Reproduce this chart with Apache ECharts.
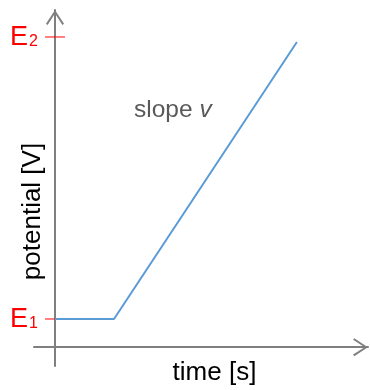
<!DOCTYPE html>
<html>
<head>
<meta charset="utf-8">
<script src="https://cdn.jsdelivr.net/npm/echarts@6/dist/echarts.min.js"></script>
<style>
  html, body { margin: 0; padding: 0; background: #fff; }
  #chart { width: 370px; height: 390px; }
</style>
</head>
<body>
<div id="chart"></div>
<script>
// Linear sweep: hold at E1, then ramp towards E2 with slope v
const times = [0, 1, 4.1];
const potentials = [0.1, 0.1, 1.082];
const levelValues = [0.1, 1.1];          // E1, E2
const levelNames = ['1', '2'];           // subscripts of E

const FONT = '"Liberation Sans", Arial, sans-serif';
const AXIS_GREY = '#7f7f7f';
const RED = '#ff0000';

// open chevron used as arrow head (points up, rotated by the axis)
const chevron = 'path://M9 0 L18 13.6 L16.4 14.8 L9 3.3 L1.6 14.8 L0 13.6 Z';

const chart = echarts.init(document.getElementById('chart'), null, { renderer: 'canvas' });

const arrowLine = {
  onZero: true,
  lineStyle: { color: AXIS_GREY, width: 2 },
  symbol: ['none', chevron],
  symbolSize: [18, 15],
  symbolOffset: [0, -7.5]
};

chart.setOption({
  animation: false,
  grid: { left: 34, right: 2, top: 10, bottom: 24, containLabel: false, outerBoundsMode: 'none' },
  xAxis: {
    type: 'value',
    min: -0.356,
    max: 5.305,
    axisLine: arrowLine,
    axisTick: { show: false },
    axisLabel: { show: false },
    splitLine: { show: false }
  },
  yAxis: {
    type: 'value',
    min: -0.0667,
    max: 1.1957,
    axisLine: arrowLine,
    axisTick: { show: false },
    axisLabel: { show: false },
    splitLine: { show: false }
  },
  series: [
    {
      // level markers E1 / E2 on the potential axis
      type: 'scatter',
      data: levelValues.map((v, i) => ({ value: [0, v], name: levelNames[i] })),
      symbol: 'rect',
      symbolSize: [20, 1],
      itemStyle: { color: RED, opacity: 1 },
      silent: true,
      z: 2,
      label: {
        show: true,
        position: 'left',
        distance: 7,
        offset: [0, 1],
        formatter: p => '{e|E}{s|' + p.name + '}',
        rich: {
          e: { fontFamily: FONT, fontSize: 27, color: RED },
          s: { fontFamily: FONT, fontSize: 16, color: RED, verticalAlign: 'bottom', padding: [0, 0, 2, 1] }
        }
      }
    },
    {
      type: 'line',
      data: times.map((t, i) => [t, potentials[i]]),
      showSymbol: false,
      symbol: 'none',
      lineStyle: { color: '#5b9bd5', width: 2 },
      z: 5
    }
  ],
  graphic: [
    {
      type: 'text',
      x: 134, y: 110,
      style: {
        text: '{n|slope }{i|v}',
        textVerticalAlign: 'middle',
        rich: {
          n: { fontFamily: FONT, fontSize: 24.5, fill: '#595959' },
          i: { fontFamily: FONT, fontSize: 24.5, fontStyle: 'italic', fill: '#595959' }
        }
      }
    },
    {
      type: 'text',
      x: 214.5, y: 373,
      style: {
        text: 'time [s]',
        fontFamily: FONT, fontSize: 26, fill: '#000',
        textAlign: 'center', textVerticalAlign: 'middle'
      }
    },
    {
      type: 'text',
      x: 33, y: 211.5,
      rotation: Math.PI / 2,
      style: {
        text: 'potential [V]',
        fontFamily: FONT, fontSize: 26, fill: '#000',
        textAlign: 'center', textVerticalAlign: 'middle'
      }
    }
  ]
});
</script>
</body>
</html>
